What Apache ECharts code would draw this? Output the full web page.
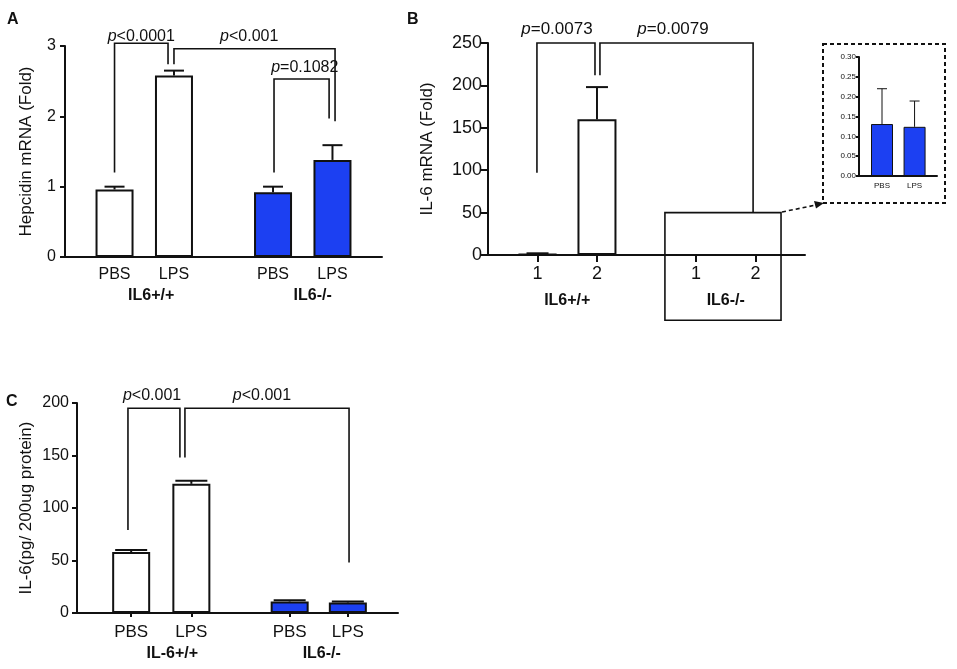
<!DOCTYPE html>
<html>
<head>
<meta charset="utf-8">
<script src="https://cdn.jsdelivr.net/npm/echarts@6/dist/echarts.min.js"></script>
<style>
  html, body { margin: 0; background: #fff; }
  #main { width: 957px; height: 669px; }
</style>
</head>
<body>
<div id="main"></div>
<script>
// A: hepcidin mRNA (fold)
var catsA = ['PBS', 'LPS', 'PBS', 'LPS'];
var groupsA = ['IL6+/+', 'IL6-/-'];
var hepcidin = [0.96, 2.58, 0.92, 1.38];
var hepcidinErr = [0.04, 0.07, 0.08, 0.21];

// B: IL-6 mRNA (fold)
var catsB = ['1', '2', '1', '2'];
var groupsB = ['IL6+/+', 'IL6-/-'];
var il6mrnaWt = [1, 160];
var il6mrnaWtErr = [1, 38];
// B inset: the IL6-/- bars blown up
var catsInset = ['PBS', 'LPS'];
var il6mrnaKo = [0.131, 0.124];
var il6mrnaKoErr = [0.089, 0.065];

// C: IL-6 protein (pg / 200ug protein)
var catsC = ['PBS', 'LPS', 'PBS', 'LPS'];
var groupsC = ['IL-6+/+', 'IL6-/-'];
var il6protein = [58, 123, 11, 10];
var il6proteinErr = [2, 3, 1.2, 1];

// ---- layout / style ----
var WHITE = '#ffffff', BLUE = '#1c40f2', INK = '#111111';
var FONT = '"Liberation Sans", Arial, sans-serif';
var FILLS = [WHITE, WHITE, BLUE, BLUE];
var SLOT = [2.5, 5.5, 10.5, 13.5];      // bar centres, x runs 0..16
var SLOT_C = [2.7, 5.7, 10.6, 13.5];
var SLOT_IN = [1.18, 2.85];             // inset, x runs 0..4
var GROUP_A = [4.35, 12.5], GROUP_B = [4.0, 12.0], GROUP_C = [4.75, 12.2];

// significance brackets, in data units of their panel
var bracketsA = [
  { text: '<0.0001', x1: 2.5, y1: 1.2, x2: 5.2, y2: 2.74, top: 3.04, tx: 3.85, ty: 3.14 },
  { text: '<0.001', x1: 5.5, y1: 2.74, x2: 13.63, y2: 1.93, top: 2.96, tx: 9.3, ty: 3.14 },
  { text: '=0.1082', x1: 10.55, y1: 1.2, x2: 13.33, y2: 1.97, top: 2.53, tx: 12.1, ty: 2.7 }
];
var bracketsB = [
  { text: '=0.0073', x1: 2.47, y1: 97, x2: 5.4, y2: 212, top: 250, tx: 3.48, ty: 266 },
  { text: '=0.0079', x1: 5.65, y1: 212, x2: 13.38, y2: 50, top: 250, tx: 9.34, ty: 266 }
];
var bracketsC = [
  { text: '<0.001', x1: 2.54, y1: 79, x2: 5.13, y2: 148, top: 195, tx: 3.74, ty: 207 },
  { text: '<0.001', x1: 5.38, y1: 148, x2: 13.56, y2: 48, top: 195, tx: 9.22, ty: 207 }
];

function pick(list, pos) {
  return function (v) {
    var i = pos.indexOf(v);
    return i < 0 ? '' : list[i];
  };
}

function xMain(gi, max, pos, cats, fs, margin, tickLen) {
  return {
    type: 'value', gridIndex: gi, min: 0, max: max, position: 'bottom',
    axisLine: { show: true, onZero: false, lineStyle: { color: INK, width: 2 } },
    axisTick: { show: tickLen > 0, customValues: pos, length: tickLen, lineStyle: { color: INK, width: 2 } },
    axisLabel: { customValues: pos, formatter: pick(cats, pos), color: INK, fontSize: fs, fontFamily: FONT, margin: margin },
    splitLine: { show: false }
  };
}

function xGroup(gi, pos, groups, fs, margin) {
  return {
    type: 'value', gridIndex: gi, min: 0, max: 16, position: 'bottom',
    axisLine: { show: false, onZero: false }, axisTick: { show: false }, splitLine: { show: false },
    axisLabel: { customValues: pos, formatter: pick(groups, pos), color: INK, fontSize: fs,
      fontWeight: 'bold', fontFamily: FONT, margin: margin }
  };
}

function yOf(gi, max, interval, name, gap, fs, nfs, tickLen, margin, fmt) {
  return {
    type: 'value', gridIndex: gi, min: 0, max: max, interval: interval,
    name: name, nameLocation: 'middle', nameGap: gap,
    nameTextStyle: { color: INK, fontSize: nfs, fontFamily: FONT },
    axisLine: { show: true, lineStyle: { color: INK, width: 2 } },
    axisTick: { show: true, length: tickLen, lineStyle: { color: INK, width: 2 } },
    axisLabel: { color: INK, fontSize: fs, fontFamily: FONT, margin: margin, formatter: fmt },
    splitLine: { show: false }
  };
}

function barSeries(xi, yi, pos, vals, fills, width, bw) {
  return {
    type: 'bar', xAxisIndex: xi, yAxisIndex: yi, barWidth: width, z: 2,
    data: vals.map(function (v, i) {
      return { value: [pos[i], v], itemStyle: { color: fills[i], borderColor: INK, borderWidth: bw } };
    })
  };
}

function errSeries(xi, yi, pos, vals, errs, cap, lw) {
  return {
    type: 'custom', xAxisIndex: xi, yAxisIndex: yi, z: 3, clip: false, silent: true,
    encode: { x: 0, y: 1 },
    data: vals.map(function (v, i) { return [pos[i], v, errs[i]]; }),
    renderItem: function (params, api) {
      var a = api.coord([api.value(0), api.value(1)]);
      var b = api.coord([api.value(0), api.value(1) + api.value(2)]);
      var st = { stroke: INK, lineWidth: lw };
      return { type: 'group', children: [
        { type: 'line', shape: { x1: a[0], y1: a[1], x2: b[0], y2: b[1] }, style: st },
        { type: 'line', shape: { x1: b[0] - cap, y1: b[1], x2: b[0] + cap, y2: b[1] }, style: st }
      ] };
    }
  };
}

function bracketSeries(xi, yi, list, fs) {
  return {
    type: 'custom', xAxisIndex: xi, yAxisIndex: yi, z: 4, clip: false, silent: true,
    encode: { x: 0, y: 1 },
    data: list.map(function (b) { return [b.x1, b.top]; }),
    renderItem: function (params, api) {
      var b = list[params.dataIndex];
      var pts = [api.coord([b.x1, b.y1]), api.coord([b.x1, b.top]), api.coord([b.x2, b.top]), api.coord([b.x2, b.y2])];
      var t = api.coord([b.tx, b.ty]);
      return { type: 'group', children: [
        { type: 'polyline', shape: { points: pts }, style: { stroke: INK, lineWidth: 1.6, fill: null } },
        { type: 'text', x: t[0], y: t[1], style: {
          text: '{i|p}{n|' + b.text + '}', align: 'center', verticalAlign: 'middle',
          rich: {
            i: { fontStyle: 'italic', fontSize: fs, fontFamily: FONT, fill: INK, color: INK },
            n: { fontSize: fs, fontFamily: FONT, fill: INK, color: INK }
          } } }
      ] };
    }
  };
}

// the box round the IL6-/- bars in B
var boxSeries = {
  type: 'custom', xAxisIndex: 2, yAxisIndex: 1, z: 4, clip: false, silent: true,
  encode: { x: 0, y: 1 },
  data: [[8.93, 50, 14.79, -77]],
  renderItem: function (params, api) {
    var a = api.coord([api.value(0), api.value(1)]);
    var b = api.coord([api.value(2), api.value(3)]);
    return { type: 'rect', shape: { x: a[0], y: a[1], width: b[0] - a[0], height: b[1] - a[1] },
      style: { stroke: INK, lineWidth: 1.6, fill: null } };
  }
};

var chart = echarts.init(document.getElementById('main'), null, { renderer: 'canvas' });

var option = {
  backgroundColor: '#ffffff',
  animation: false,
  grid: [
    { left: 65, top: 46, width: 317, height: 211, outerBoundsMode: 'none' },
    { left: 488, top: 43, width: 317, height: 212, outerBoundsMode: 'none' },
    { left: 859, top: 57, width: 78, height: 119, outerBoundsMode: 'none' },
    { left: 77, top: 403, width: 321, height: 210, outerBoundsMode: 'none' }
  ],
  xAxis: [
    xMain(0, 16, SLOT, catsA, 16, 10, 0),
    xGroup(0, GROUP_A, groupsA, 16, 31),
    xMain(1, 16, SLOT, catsB, 18, 10, 7),
    xGroup(1, GROUP_B, groupsB, 16, 38),
    xMain(2, 4, SLOT_IN, catsInset, 8, 6, 0),
    xMain(3, 16, SLOT_C, catsC, 17, 11, 4),
    xGroup(3, GROUP_C, groupsC, 16, 33)
  ],
  yAxis: [
    yOf(0, 3, 1, 'Hepcidin mRNA (Fold)', 30, 16, 17, 5, 9),
    yOf(1, 250, 50, 'IL-6 mRNA (Fold)', 52, 18, 17, 7, 6),
    yOf(2, 0.30, 0.05, '', 0, 8, 8, 3, 3, function (v) { return v.toFixed(2); }),
    yOf(3, 200, 50, 'IL-6(pg/ 200ug protein)', 42, 16, 17, 5, 8)
  ],
  series: [
    barSeries(0, 0, SLOT, hepcidin, FILLS, 38, 2),
    errSeries(0, 0, SLOT, hepcidin, hepcidinErr, 10, 2),
    bracketSeries(0, 0, bracketsA, 16),

    barSeries(2, 1, SLOT, il6mrnaWt.concat(il6mrnaKo), FILLS, 39, 2),
    errSeries(2, 1, SLOT.slice(0, 2), il6mrnaWt, il6mrnaWtErr, 11, 2),
    bracketSeries(2, 1, bracketsB, 17),
    boxSeries,

    barSeries(4, 2, SLOT_IN, il6mrnaKo, [BLUE, BLUE], 22, 1),
    errSeries(4, 2, SLOT_IN, il6mrnaKo, il6mrnaKoErr, 5, 1),

    barSeries(5, 3, SLOT_C, il6protein, FILLS, 38, 2),
    errSeries(5, 3, SLOT_C, il6protein, il6proteinErr, 16, 2),
    bracketSeries(5, 3, bracketsC, 16)
  ],
  graphic: [
    { type: 'text', left: 7, top: 12, style: { text: 'A', font: 'bold 16px ' + FONT, fill: INK } },
    { type: 'text', left: 407, top: 12, style: { text: 'B', font: 'bold 16px ' + FONT, fill: INK } },
    { type: 'text', left: 6, top: 394, style: { text: 'C', font: 'bold 16px ' + FONT, fill: INK } },
    // inset frame and pointer
    { type: 'rect', shape: { x: 823, y: 44, width: 122, height: 159 },
      style: { fill: null, stroke: INK, lineWidth: 2, lineDash: [4, 3] } },
    { type: 'line', shape: { x1: 782, y1: 212, x2: 816, y2: 205 },
      style: { stroke: INK, lineWidth: 1.6, lineDash: [4, 3] } },
    { type: 'polygon', shape: { points: [[824, 203], [814, 201], [816, 208.5]] },
      style: { fill: INK } }
  ]
};

chart.setOption(option);
</script>
</body>
</html>
